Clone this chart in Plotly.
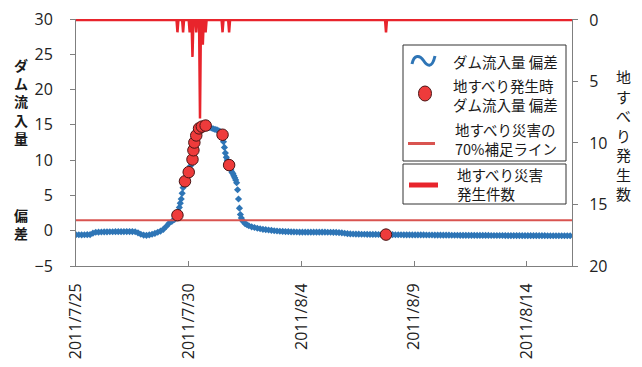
import numpy as np
import pandas as pd
import plotly.graph_objects as go

START = pd.Timestamp("2011-07-25 00:00")
X_END = pd.Timestamp("2011-08-16 00:00")

# ---- dam inflow deviation (hours since START, value) ----
inflow_hours = (list(range(0, 106, 3)) +
                [106, 107, 108, 109, 110, 111, 112, 113, 114, 115, 116, 117, 118, 119, 120,
                 121, 122, 123, 124, 125, 126, 127, 128, 129, 130, 131, 132, 133, 134, 135,
                 136, 137, 138, 140, 142, 144, 146, 148, 150, 152, 154, 156, 157, 158, 159,
                 160, 161, 162, 163, 164, 165, 166, 167, 168, 169, 170, 171, 172, 173, 174,
                 175, 176, 177, 178, 180, 182, 184] +
                list(range(187, 529, 3)))
inflow_dev = ([-0.57, -0.57, -0.58, -0.57, -0.56, -0.55, -0.35, -0.22, -0.2, -0.18, -0.17, -0.16,
               -0.15, -0.15, -0.14, -0.14, -0.13, -0.13, -0.12, -0.12, -0.12, -0.15, -0.3, -0.5,
               -0.62, -0.65, -0.6, -0.5, -0.38, -0.22, -0.05, 0.2, 0.6, 1.05, 1.3, 1.6] +
              [1.8, 2.0, 2.2, 2.7, 3.3, 3.9, 4.5, 5.3, 6.1, 6.6, 7.0, 7.3, 7.6, 7.9, 8.3,
               8.7, 9.2, 9.6, 10.1, 11.4, 12.5, 13.1, 13.5, 13.9, 14.2, 14.5, 14.6, 14.7, 14.75, 14.8,
               14.85, 14.9, 14.9, 14.8, 14.65, 14.55, 14.45, 14.35, 14.3, 14.15, 14.0, 13.6, 12.6, 11.8, 11.0,
               10.4, 10.0, 9.6, 9.3, 8.9, 8.6, 8.3, 8.1, 7.8, 7.5, 7.2, 6.8, 5.8, 4.5, 3.2,
               2.3, 1.8, 1.5, 1.3, 1.0, 0.85, 0.7] +
              [0.55, 0.45, 0.35, 0.28, 0.2, 0.15, 0.1, 0.05, 0.0, -0.04, -0.08, -0.1, -0.12, -0.14,
               -0.16, -0.17, -0.18, -0.19,
               -0.2, -0.2, -0.2, -0.2, -0.21, -0.21, -0.2, -0.2, -0.21, -0.22, -0.22, -0.23, -0.24, -0.26,
               -0.3, -0.36, -0.42, -0.45, -0.47, -0.48, -0.49, -0.5, -0.5, -0.51, -0.52, -0.52, -0.53,
               -0.54, -0.55, -0.55,
               -0.56, -0.56, -0.56, -0.57, -0.57, -0.57, -0.58, -0.58, -0.58, -0.59, -0.59, -0.6, -0.6,
               -0.6, -0.61, -0.61, -0.61, -0.62, -0.62, -0.62, -0.63, -0.63, -0.63, -0.64, -0.64, -0.64,
               -0.65, -0.65, -0.65, -0.66, -0.66, -0.66, -0.67, -0.67,
               -0.67, -0.67, -0.67, -0.68, -0.68, -0.68, -0.68, -0.68, -0.69, -0.69, -0.69, -0.69, -0.69,
               -0.69, -0.7, -0.7, -0.7, -0.7, -0.7, -0.7, -0.7, -0.7, -0.7, -0.71, -0.71, -0.71, -0.71,
               -0.71, -0.71, -0.71, -0.71, -0.71])
assert len(inflow_hours) == len(inflow_dev)

# ---- inflow deviation at landslide occurrence ----
event_hours = [108, 116, 120, 124, 125, 126, 128, 131, 134, 138, 156, 163, 330]
event_dev = [2.2, 7.0, 8.3, 10.1, 11.4, 12.5, 13.5, 14.5, 14.75, 14.9, 13.6, 9.3, -0.55]

# ---- landslide counts per hour (right axis) ----
count_hours = [108, 114, 121, 124, 128, 132, 135, 138, 156, 163, 330]
counts = [1, 1, 1, 3, 1, 8, 2, 1, 1, 1, 1]
N_HOURS = 528

# ---- 70% capture line ----
threshold = 1.5

tick_dates = ["2011-07-25", "2011-07-30", "2011-08-04", "2011-08-09", "2011-08-14"]
tick_text = ["2011/7/25", "2011/7/30", "2011/8/4", "2011/8/9", "2011/8/14"]

def to_time(h):
    return START + pd.to_timedelta(np.asarray(h, dtype=float), unit="h")

hourly = np.zeros(N_HOURS + 1)
for h, c in zip(count_hours, counts):
    hourly[h] = c

BLUE = "#2e75b6"
RED = "#e8242c"
SALMON = "#d95450"
TXT = "#1a1a1a"
AX = "#7f7f7f"

fig = go.Figure()
fig.add_trace(go.Scatter(x=to_time(inflow_hours), y=inflow_dev, mode="markers",
                         marker=dict(symbol="diamond", size=5.5, color=BLUE),
                         name="ダム流入量 偏差"))
fig.add_trace(go.Scatter(x=[START, X_END], y=[threshold, threshold], mode="lines",
                         line=dict(color=SALMON, width=2), name="70%補足ライン"))
fig.add_trace(go.Scatter(x=to_time(event_hours), y=event_dev, mode="markers",
                         marker=dict(symbol="circle", size=11.5, color="#ee3b3b",
                                     line=dict(color="#4a1515", width=1)),
                         name="地すべり発生時"))
fig.add_trace(go.Scatter(x=to_time(np.arange(N_HOURS + 1)), y=hourly, mode="lines",
                         line=dict(color=RED, width=2.5), yaxis="y2",
                         name="地すべり災害発生件数"))

# plot area in pixels
L, R, T, B = 76, 572, 19, 266
W, H = R - L, B - T

def px(x):
    return (x - L) / W

def py(y):
    return (B - y) / H

shapes = []
# legend boxes
shapes.append(dict(type="rect", xref="paper", yref="paper", x0=px(403), x1=px(566), y0=py(45), y1=py(161),
                   line=dict(color="#333333", width=1), fillcolor="white", layer="above"))
shapes.append(dict(type="rect", xref="paper", yref="paper", x0=px(403), x1=px(566), y0=py(164), y1=py(204),
                   line=dict(color="#333333", width=1), fillcolor="white", layer="above"))
# wavy symbol
path = "M {},{} C {},{} {},{} {},{} S {},{} {},{}".format(
    px(412), py(64), px(414), py(54), px(420), py(55), px(423.5), py(60.5),
    px(432), py(69), px(435), py(56))
shapes.append(dict(type="path", xref="paper", yref="paper", path=path,
                   line=dict(color=BLUE, width=3), layer="above"))
# red circle symbol
shapes.append(dict(type="circle", xref="paper", yref="paper", x0=px(418.5), x1=px(431.5), y0=py(86), y1=py(101),
                   line=dict(color="#4a1515", width=1), fillcolor="#ee3b3b", layer="above"))
# 70% line symbol
shapes.append(dict(type="line", xref="paper", yref="paper", x0=px(408), x1=px(435), y0=py(143.5), y1=py(143.5),
                   line=dict(color=SALMON, width=3), layer="above"))
# count line symbol
shapes.append(dict(type="line", xref="paper", yref="paper", x0=px(409), x1=px(438), y0=py(185), y1=py(185),
                   line=dict(color=RED, width=5), layer="above"))

LF = "Noto Sans CJK JP"
ann = []
def legtext(text, x, y):
    ann.append(dict(text=text, xref="paper", yref="paper", x=px(x), y=py(y), xanchor="left", yanchor="middle",
                    align="left", showarrow=False, font=dict(family=LF, size=14.5, color=TXT)))
legtext("ダム流入量 偏差", 451, 62)
legtext("地すべり発生時<br>ダム流入量 偏差", 451, 95)
legtext("地すべり災害の<br>70%補足ライン", 453, 139)
legtext("地すべり災害<br>発生件数", 455, 184)

# axis titles (vertical text)
ann.append(dict(text="<b>ダ<br>ム<br>流<br>入<br>量</b>", xref="paper", yref="paper", x=px(21), y=py(102),
                xanchor="center", yanchor="middle", showarrow=False, font=dict(family=LF, size=14, color=TXT)))
ann.append(dict(text="<b>偏<br>差</b>", xref="paper", yref="paper", x=px(21), y=py(224),
                xanchor="center", yanchor="middle", showarrow=False, font=dict(family=LF, size=14, color=TXT)))
ann.append(dict(text="地<br>す<br>べ<br>り<br>発<br>生<br>数", xref="paper", yref="paper", x=px(623), y=py(135),
                xanchor="center", yanchor="middle", showarrow=False, font=dict(family=LF, size=15, color=TXT)))

TF = dict(family="Open Sans", size=16, color="#222222")
fig.update_layout(
    width=642, height=367,
    margin=dict(l=L, r=642 - R, t=T, b=367 - B, pad=0, autoexpand=False),
    paper_bgcolor="white", plot_bgcolor="white",
    showlegend=False,
    shapes=shapes, annotations=ann,
    xaxis=dict(type="date", range=[START, X_END], tickvals=tick_dates, ticktext=tick_text,
               tickangle=-90, ticks="inside", ticklen=5, tickcolor=AX, showline=True, linecolor=AX,
               linewidth=1, showgrid=False, zeroline=False, tickfont=TF, ticklabelstandoff=10,
               automargin=False),
    yaxis=dict(range=[-5, 30], tickvals=[-5, 0, 5, 10, 15, 20, 25, 30], ticks="outside", ticklen=5,
               tickcolor=AX, showline=True, linecolor=AX, linewidth=1, showgrid=False, zeroline=False,
               tickfont=TF, ticklabelstandoff=14, automargin=False),
    yaxis2=dict(range=[20, -0.08], overlaying="y", side="right", tickvals=[0, 5, 10, 15, 20],
                ticks="outside", ticklen=5, tickcolor=AX, showline=True, linecolor=AX, linewidth=1,
                showgrid=False, zeroline=False, tickfont=TF, ticklabelstandoff=8, automargin=False),
)
fig.write_html("out.html", config={"displayModeBar": False},
               post_script="document.body.style.margin='0';document.body.style.overflow='hidden';")
